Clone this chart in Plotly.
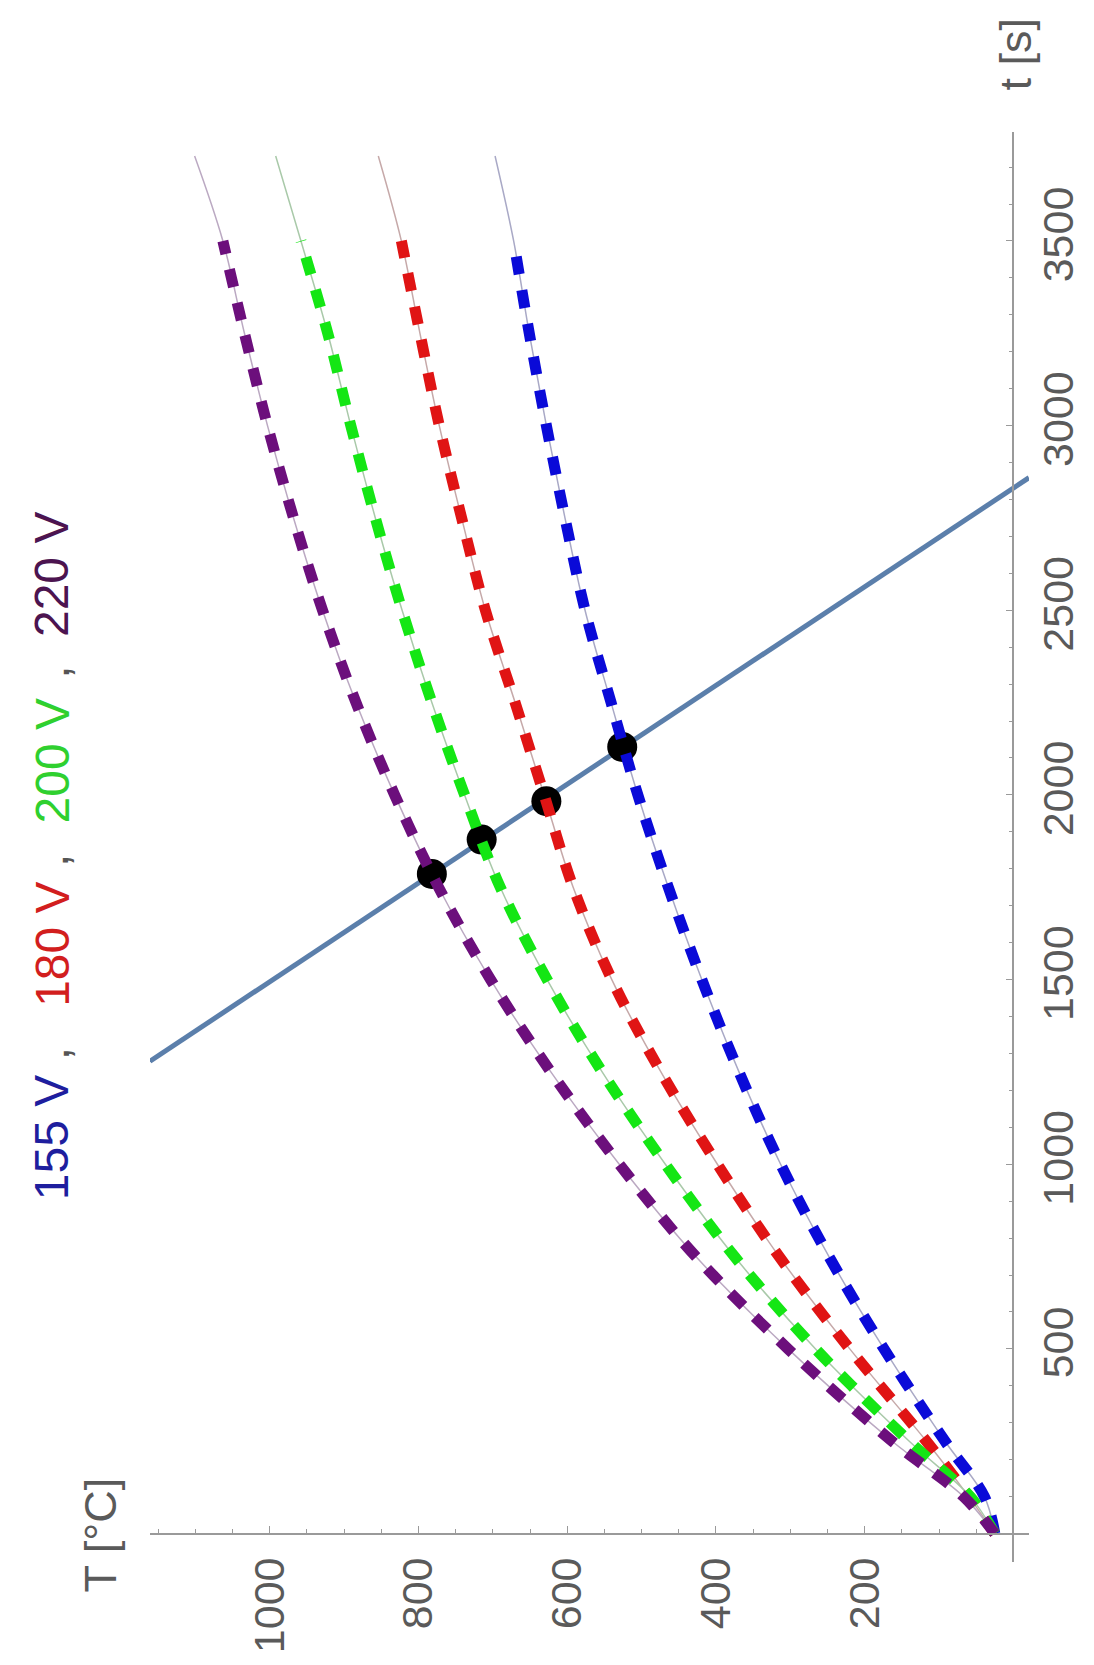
import plotly.graph_objects as go

# ---- data ----
t_data = [0, 100, 250, 500, 750, 1000, 1250, 1500, 1750, 2000, 2250, 2500, 2750, 3000, 3250, 3500]
t_fit = t_data + [3730]

T_155 = [25, 39, 92, 174, 248, 313, 369, 419, 464, 505, 541, 576, 603, 628, 651, 672]
T_180 = [25, 60, 117, 220, 315, 398, 474, 540, 592, 631, 670, 710, 742, 772, 798, 823]
T_200 = [25, 58, 140, 266, 375, 468, 553, 627, 690, 738, 782, 822, 858, 891, 922, 958]
T_220 = [25, 67, 163, 303, 427, 530, 622, 703, 773, 832, 884, 929, 968, 1003, 1034, 1063]
T_top = {"155 V": 697, "180 V": 854, "200 V": 992, "220 V": 1101}

line_t = [1279, 2859]
line_T = [1161, -21]

cross_t = [1786, 1879, 1983, 2130]
cross_T = [782, 715, 628, 526]

series_names = ["155 V", "180 V", "200 V", "220 V"]
series_T = [T_155, T_180, T_200, T_220]
dash_colors = ["#0a0ad8", "#e01414", "#14e614", "#6c0f7c"]
thin_colors = ["#a9a9c6", "#c6a9a9", "#a9c9a9", "#bba9c2"]
label_colors = ["#1e1e9e", "#d21e1e", "#2fd02f", "#4c1450"]

t_ticks = [500, 1000, 1500, 2000, 2500, 3000, 3500]
T_ticks = [200, 400, 600, 800, 1000]

T_range = [1161, -21]
t_range = [-77, 3795]

W, H = 1094, 1665
ML, MR, MT, MB = 150, 45, 132, 83
PW, PH = W - ML - MR, H - MT - MB


def px(x, y):
    return (x - ML) / PW, (H - MB - y) / PH


fig = go.Figure()

# straight line
fig.add_trace(go.Scatter(x=line_T, y=line_t, mode="lines",
                         line=dict(color="#5b7fab", width=5), hoverinfo="skip"))

# thin fit curves
for T, c, name in zip(series_T, thin_colors, series_names):
    fig.add_trace(go.Scatter(x=T + [T_top[name]], y=t_fit, mode="lines",
                             line=dict(color=c, width=1.5, shape="spline"), hoverinfo="skip"))

# intersection points
fig.add_trace(go.Scatter(x=cross_T, y=cross_t, mode="markers",
                         marker=dict(color="black", size=30), hoverinfo="skip"))

# dashed curves
for T, c in zip(series_T, dash_colors):
    fig.add_trace(go.Scatter(x=T, y=t_data, mode="lines",
                             line=dict(color=c, width=11, dash="18px,16px", shape="spline"),
                             hoverinfo="skip"))

axis_col = "#9a9a9a"
tick_font = dict(family="Liberation Sans, Arial, sans-serif", size=43, color="#5a5a5a")

t0_frac = (0 - t_range[0]) / (t_range[1] - t_range[0])
T0_frac = (T_range[0] - 0) / (T_range[0] - T_range[1])

fig.update_layout(
    width=W, height=H,
    margin=dict(l=ML, r=MR, t=MT, b=MB),
    paper_bgcolor="white", plot_bgcolor="white",
    showlegend=False,
    xaxis=dict(range=T_range, anchor="free", position=t0_frac, side="bottom",
               showline=True, linecolor=axis_col, linewidth=1.5,
               showgrid=False, zeroline=False,
               tickmode="array", tickvals=T_ticks, ticktext=[str(v) for v in T_ticks],
               ticks="inside", ticklen=7, tickwidth=1.2, tickcolor=axis_col,
               tickangle=-90, tickfont=tick_font, ticklabelstandoff=6,
               minor=dict(tickmode="linear", tick0=0, dtick=50, ticks="inside",
                          ticklen=4, tickcolor=axis_col, showgrid=False)),
    yaxis=dict(range=t_range, anchor="free", position=T0_frac, side="right",
               showline=True, linecolor=axis_col, linewidth=1.5,
               showgrid=False, zeroline=False,
               tickmode="array", tickvals=t_ticks, ticktext=[str(v) for v in t_ticks],
               ticks="inside", ticklen=7, tickwidth=1.2, tickcolor=axis_col,
               tickangle=-90, tickfont=tick_font, ticklabelstandoff=7,
               minor=dict(tickmode="linear", tick0=0, dtick=100, ticks="inside",
                          ticklen=4, tickcolor=axis_col, showgrid=False)),
)

ann = []
title_font = dict(family="Liberation Sans, Arial, sans-serif", size=45, color="#5a5a5a")
x0, y0 = px(1035, 53)
ann.append(dict(x=x0, y=y0, xref="paper", yref="paper", text="t [s]", showarrow=False,
                textangle=-90, xanchor="center", yanchor="middle", font=title_font))
x0, y0 = px(99, 1555)
ann.append(dict(x=x0, y=y0, xref="paper", yref="paper", text="T [°C]", showarrow=False,
                textangle=-90, xanchor="center", yanchor="middle", font=title_font))

label_y = [1152, 956, 770, 581]
comma_y = [1067, 871, 680]
leg_font = "Liberation Sans, Arial, sans-serif"
for name, c, yy in zip(series_names, label_colors, label_y):
    x0, y0 = px(50, yy)
    ann.append(dict(x=x0, y=y0, xref="paper", yref="paper", text=name, showarrow=False,
                    textangle=-90, xanchor="center", yanchor="middle",
                    font=dict(family=leg_font, size=48, color=c)))
for yy in comma_y:
    x0, y0 = px(50, yy)
    ann.append(dict(x=x0, y=y0, xref="paper", yref="paper", text=",", showarrow=False,
                    textangle=-90, xanchor="center", yanchor="middle",
                    font=dict(family=leg_font, size=48, color="#555555")))

fig.update_layout(annotations=ann)

fig.write_html("out.html")
